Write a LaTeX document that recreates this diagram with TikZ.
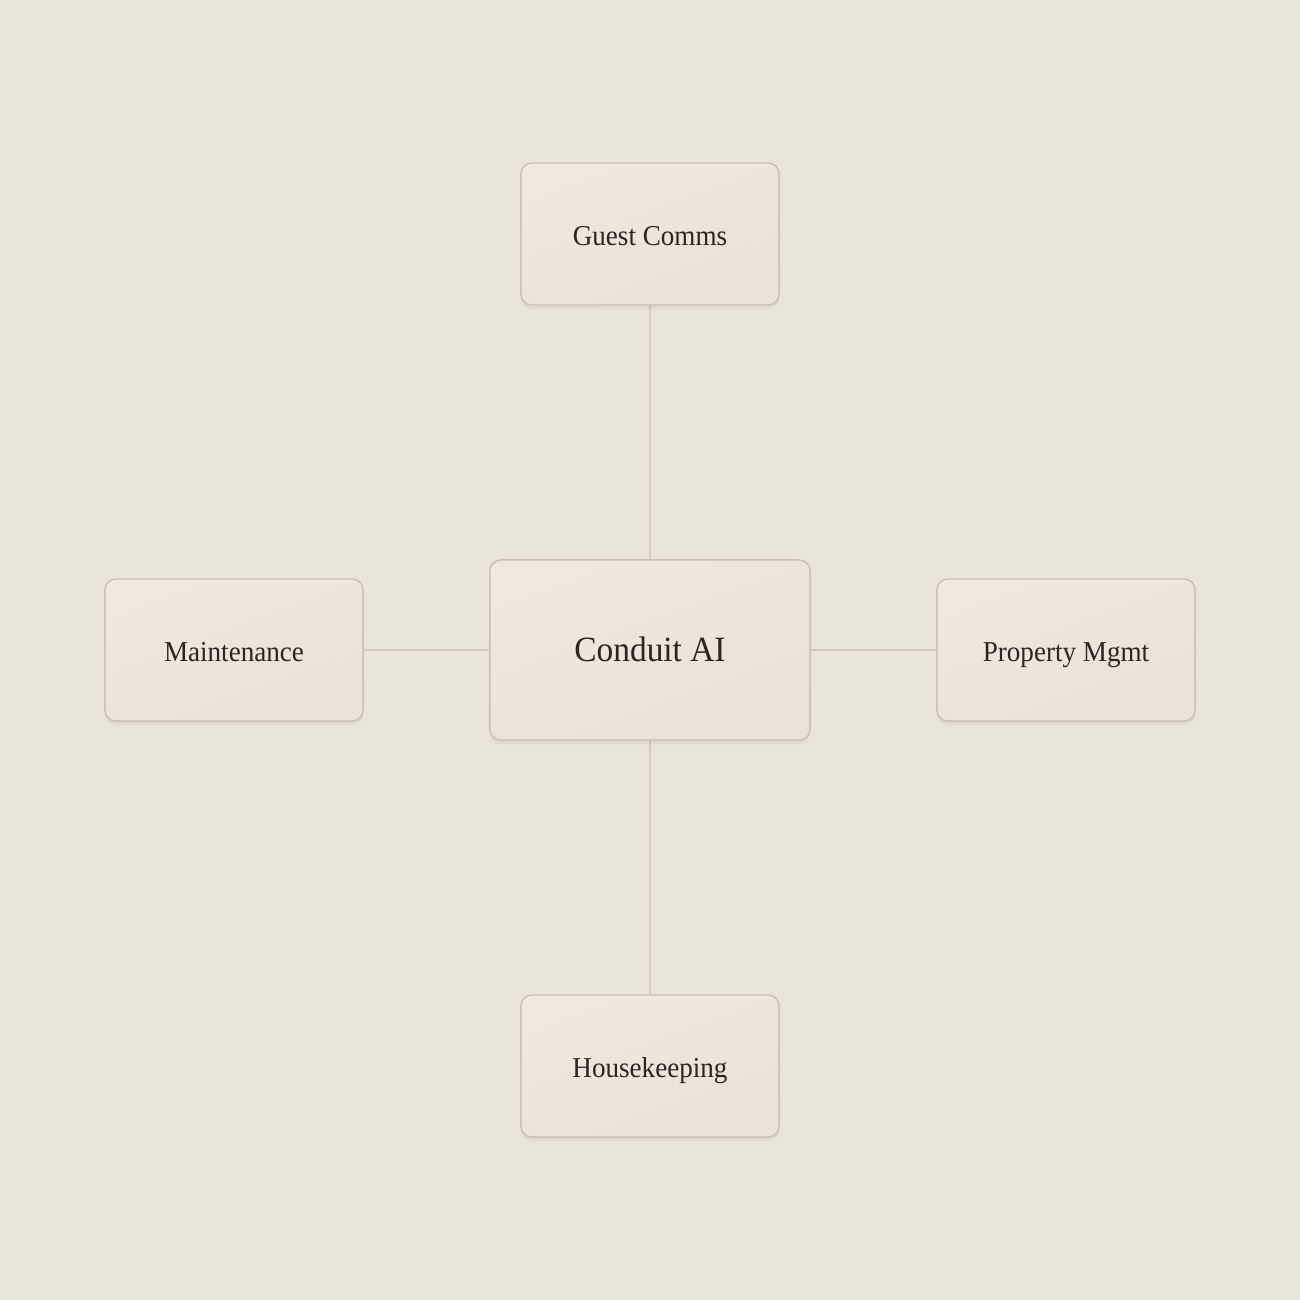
\documentclass[tikz,border=0pt]{standalone}
\usepackage{fontspec}
\setmainfont{Liberation Serif}[FakeStretch=0.94]
\usetikzlibrary{shadows,fadings}
\definecolor{bg}{HTML}{EAE5DB}
\definecolor{boxtop}{HTML}{EFE9DF}
\definecolor{boxbot}{HTML}{E9E2D6}
\definecolor{boxline}{HTML}{C8C1B7}
\definecolor{conn}{HTML}{D2CCC2}
\definecolor{ink}{HTML}{2A2620}
\tikzset{
  sat/.style={draw=boxline, line width=0.4pt, rounded corners=1.1mm,
    minimum width=2.58cm, minimum height=1.42cm, inner sep=0pt,
    text height=0.66em, text depth=0pt,
    top color=boxtop, bottom color=boxbot, shading angle=20,
    text=ink, font=\fontsize{8.2}{10}\selectfont,
    drop shadow={shadow xshift=0pt, shadow yshift=-0.04cm, opacity=0.08, fill=black!60}},
  hub/.style={sat, minimum width=3.2cm, minimum height=1.8cm,
    font=\fontsize{10.1}{12}\selectfont},
  link/.style={draw=conn, line width=0.45pt}
}
\begin{document}
\begin{tikzpicture}[x=0.01cm,y=-0.01cm]
\fill[bg] (0,0) rectangle (1300,1300);
\useasboundingbox (0,0) rectangle (1300,1300);
\coordinate (cc) at (650,650);
\coordinate (ct) at (650,234);
\coordinate (cb) at (650,1066);
\coordinate (cl) at (234,650);
\coordinate (cr) at (1066,650);
\draw[link] (ct) -- (cc);
\draw[link] (cb) -- (cc);
\draw[link] (cl) -- (cc);
\draw[link] (cr) -- (cc);
\node[hub] (hub) at (cc) {Conduit AI};
\node[sat] (top) at (ct) {Guest Comms};
\node[sat] (bot) at (cb) {Housekeeping};
\node[sat] (lef) at (cl) {Maintenance};
\node[sat] (rig) at (cr) {Property Mgmt};
\end{tikzpicture}
\end{document}
